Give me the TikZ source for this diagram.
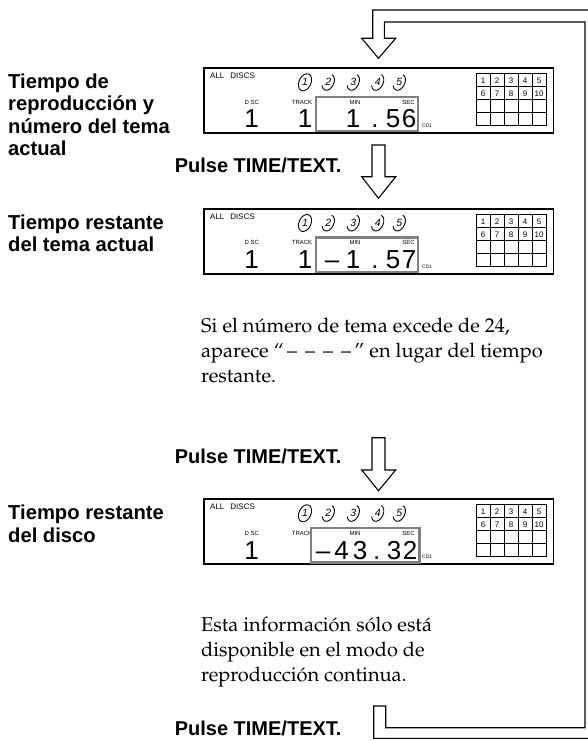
\documentclass[tikz,border=0pt]{standalone}
\usepackage[T1]{fontenc}
\usepackage{fontspec}
\setmainfont{Liberation Sans}
\newcommand\palfont{\fontencoding{T1}\fontfamily{ppl}\selectfont}
\definecolor{lcdgray}{gray}{0.5}
\tikzset{
  lbl/.style={font=\bfseries\fontsize{20.2}{22.5}\selectfont, anchor=base west, inner sep=0},
  pulse/.style={font=\bfseries\fontsize{20}{22.5}\selectfont, anchor=base east, inner sep=0},
  para/.style={font=\palfont\fontsize{20}{25}\selectfont, anchor=base west, inner sep=0},
  lab/.style={font=\fontsize{6}{6}\selectfont, inner sep=0},
  alld/.style={font=\fontsize{8}{8}\selectfont, inner sep=0, anchor=west},
  cdl/.style={font=\fontsize{5}{5}\selectfont, inner sep=0},
  gridnum/.style={font=\fontsize{8}{8}\selectfont, inner sep=0},
  discnum/.style={font=\itshape\fontsize{10.5}{10.5}\selectfont, inner sep=0},
  lcdd/.style={font=\fontsize{26}{26}\selectfont, anchor=base, inner sep=0},
  timebox/.style={draw=lcdgray, line width=2.4pt, fill=white},
  outline/.style={draw=black, line width=1.1pt, fill=white, line join=miter},
  ring/.style={line width=0.9pt},
}
\newcommand\lcdunit[4]{%
\begin{scope}[shift={(0,#2)}]
  \draw[line width=1.8pt] (204,0) rectangle (553.5,65);
  \node[alld] (#1all) at (210,7.7) {ALL\hspace{6pt}DISCS};
  \foreach \d/\x in {1/305,2/328.3,3/353.3,4/377.7,5/399.3}{
    \node[discnum] (#1d\d) at (\x,14) {\d};}
  \draw[ring, rotate around={-25:(305,14)}] (305,14) ellipse[x radius=6pt, y radius=9pt];
  \foreach \x in {328.3,353.3,377.7,399.3}{
    \draw[ring, rotate around={-25:(\x,14)}] (\x,14) ++(0,-8.5) arc[start angle=90, end angle=-140, x radius=5.5pt, y radius=8.5pt];}
  \node[lab] (#1dsc) at (251.7,33.7) {D SC};
  \node[lab] (#1trk) at (302,33.7) {TRACK};
  \draw[line width=1pt] (476,5.5) rectangle (546,57.5);
  \foreach \i in {1,...,4}{\draw[line width=0.7pt] ({476+14*\i},5.5) -- ({476+14*\i},57.5);}
  \foreach \j in {1,2,3}{\draw[line width=0.7pt] (476,{5.5+13*\j}) -- (546,{5.5+13*\j});}
  \foreach \n in {1,...,5}{\node[gridnum] (#1g\n) at ({469+14*\n},12.3) {\n};}
  \foreach \n in {6,...,10}{\node[gridnum] (#1g\n) at ({469+14*(\n-5)},25.3) {\n};}
  \node[cdl] (#1cd) at (427,57.5) {CD1};
  \draw[timebox] (#3,28.5) rectangle (#4,63);
  \node[lab] (#1min) at (355,33.7) {MIN};
  \node[lab] (#1sec) at (408.5,33.7) {SEC};
\end{scope}}
\begin{document}
\begin{tikzpicture}[x=1pt,y=-1pt]
\useasboundingbox (0,0) rectangle (588,741);
\fill[white] (0,0) rectangle (588,741);

% return loop with top arrow
\draw[outline] (372.7,38.3) -- (372.7,10) -- (592,10) -- (592,738.4) -- (373.7,738.4)
  -- (373.7,706) -- (385.7,706) -- (385.7,727.7) -- (585,727.7) -- (585,22)
  -- (384.3,22) -- (384.3,38.3) -- (395.7,38.3) -- (378.5,58.3) -- (361.7,38.3) -- cycle;

% display 1
\lcdunit{a}{68.3}{316}{418}
\node[lcdd] (aD) at (251.7,127.8) {1};
\node[lcdd] (aT) at (305,127.8) {1};
\node[lcdd] (a1) at (353,127.8) {1};
\node[lcdd] (a2) at (375,127.8) {.};
\node[lcdd] (a3) at (393,127.8) {5};
\node[lcdd] (a4) at (409,127.8) {6};

% display 2
\lcdunit{b}{209}{316}{418}
\node[lcdd] (bD) at (251.7,268.5) {1};
\node[lcdd] (bT) at (305,268.5) {1};
\node[lcdd] (b0) at (332,268.5) {–};
\node[lcdd] (b1) at (353,268.5) {1};
\node[lcdd] (b2) at (375,268.5) {.};
\node[lcdd] (b3) at (393,268.5) {5};
\node[lcdd] (b4) at (409,268.5) {7};

% display 3
\lcdunit{c}{499.3}{311}{419.3}
\node[lcdd] (cD) at (251.7,559.3) {1};
\node[lcdd] (c0) at (323,559.3) {–};
\node[lcdd] (c1) at (341.7,559.3) {4};
\node[lcdd] (c2) at (360,559.3) {3};
\node[lcdd] (c3) at (376.7,559.3) {.};
\node[lcdd] (c4) at (394,559.3) {3};
\node[lcdd] (c5) at (410,559.3) {2};

% block arrows
\draw[outline] (372,145) -- (385,145) -- (385,176.7) -- (395.7,176.7) -- (378.5,198.3)
  -- (361.7,176.7) -- (372,176.7) -- cycle;
\draw[outline] (372,437.7) -- (385,437.7) -- (385,470) -- (395.7,470) -- (378.5,490.7)
  -- (361.7,470) -- (372,470) -- cycle;

% left labels
\node[lbl] (l1a) at (8,88.3) {Tiempo de};
\node[lbl] (l1b) at (8,110.8) {reproducción y};
\node[lbl] (l1c) at (8,133.3) {número del tema};
\node[lbl] (l1d) at (8,155.8) {actual};
\node[lbl] (l2a) at (8,229) {Tiempo restante};
\node[lbl] (l2b) at (8,251.5) {del tema actual};
\node[lbl] (l3a) at (8,519.8) {Tiempo restante};
\node[lbl] (l3b) at (8,542.3) {del disco};

% Pulse labels
\node[pulse] (p1) at (341.7,172.7) {Pulse TIME/TEXT.};
\node[pulse] (p2) at (341.7,463.3) {Pulse TIME/TEXT.};
\node[pulse] (p3) at (341.7,735.5) {Pulse TIME/TEXT.};

% notes
\node[para] (n1a) at (201,332) {Si el n\'umero de tema excede de 24,};
\node[para] (n1b) at (201,357) {aparece ``\,--\hspace{0.4em}--\hspace{0.4em}--\hspace{0.4em}--\,'' en lugar del tiempo};
\node[para] (n1c) at (201,382) {restante.};
\node[para] (n2a) at (201,631) {Esta informaci\'on s\'olo est\'a};
\node[para] (n2b) at (201,656) {disponible en el modo de};
\node[para] (n2c) at (201,681) {reproducci\'on continua.};
\end{tikzpicture}
\end{document}
